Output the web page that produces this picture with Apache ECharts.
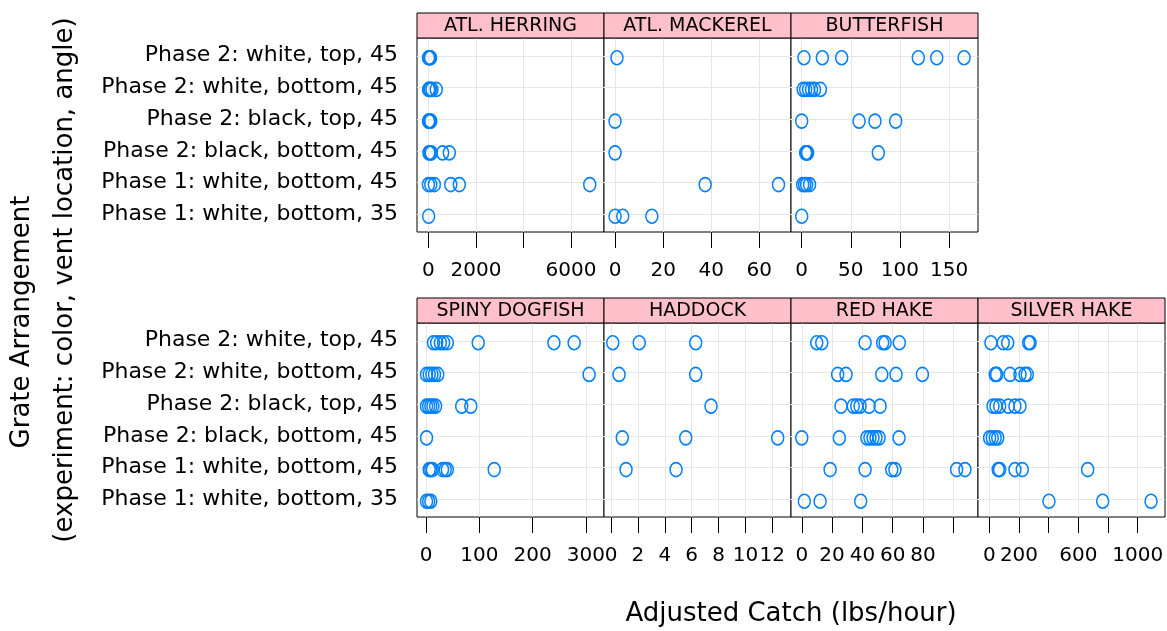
<!DOCTYPE html>
<html>
<head>
<meta charset="utf-8">
<title>Adjusted catch by grate arrangement</title>
<script src="https://cdn.jsdelivr.net/npm/echarts@6.0.0/dist/echarts.min.js"></script>
<style>
  html, body { margin: 0; padding: 0; background: #fff; }
  #main { width: 1167px; height: 631px; }
</style>
</head>
<body>
<div id="main"></div>
<script>
// grate arrangements, bottom row of a panel first (y = 1 .. 6)
var levels = [
  'Phase 1: white, bottom, 35',
  'Phase 1: white, bottom, 45',
  'Phase 2: black, bottom, 45',
  'Phase 2: black, top, 45',
  'Phase 2: white, bottom, 45',
  'Phase 2: white, top, 45'
];

// adjusted catch (lbs/hour), one list per arrangement, same order as levels
var herring = [
  [10],
  [0, 100, 250, 940, 1300, 6790],
  [20, 70, 120, 600, 880],
  [5, 30, 70, 100],
  [10, 40, 80, 150, 330],
  [5, 30, 60, 90]
];
var mackerel = [
  [0, 3.2, 15.3],
  [37.5, 68],
  [0],
  [0],
  [],
  [0.8]
];
var butterfish = [
  [0],
  [1, 3, 5, 8],
  [4, 5, 6, 78],
  [0, 58.4, 74.6, 95.7],
  [1.5, 4, 7, 10, 13, 19],
  [2.3, 21, 40.7, 118.7, 137.5, 165.3]
];
var dogfish = [
  [1, 5, 9],
  [6, 9, 12, 31, 36, 40, 128],
  [1],
  [1, 5, 9, 13, 18, 67, 84],
  [1, 6, 11, 16, 22, 306],
  [14, 20, 27, 33, 40, 98, 240, 278]
];
var haddock = [
  [],
  [1.12, 4.84],
  [0.84, 5.56, 12.4],
  [7.44],
  [0.6, 6.3],
  [0.13, 2.1, 6.3]
];
var redHake = [
  [1.7, 12.1, 38.9],
  [18.7, 41.8, 59.4, 61.5, 102.2, 107.7],
  [0, 24.8, 43, 45, 47, 49, 51, 64.2],
  [25.9, 34, 36.3, 38.5, 44.4, 51.7],
  [23.7, 29.2, 52.8, 62.2, 79.6],
  [9.9, 13.2, 41.8, 53.4, 55, 64.4]
];
var silverHake = [
  [402, 764, 1090],
  [60, 70, 173, 222, 663],
  [2, 20, 40, 57],
  [25, 45, 70, 128, 173, 207],
  [40, 50, 140, 207, 241, 256],
  [11, 94, 124, 265, 275]
];

// x ticks and the tick labels that are printed
var herringTicks = [0, 2000, 4000, 6000],  herringLabels = [0, 2000, 6000];
var mackerelTicks = [0, 20, 40, 60],       mackerelLabels = [0, 20, 40, 60];
var butterTicks = [0, 50, 100, 150],       butterLabels = [0, 50, 100, 150];
var dogTicks = [0, 100, 200, 300],         dogLabels = [0, 100, 200, 300];
var haddockTicks = [0, 2, 4, 6, 8, 10, 12], haddockLabels = [0, 2, 4, 6, 8, 10, 12];
var redTicks = [0, 20, 40, 60, 80, 100],   redLabels = [0, 20, 40, 60, 80];
var silverTicks = [0, 200, 400, 600, 800, 1000], silverLabels = [0, 200, 600, 1000];

var panels = [
  { name: 'ATL. HERRING',  rows: herring,    ticks: herringTicks,  labels: herringLabels,  min: -480,  max: 7390,  row: 0, col: 0 },
  { name: 'ATL. MACKEREL', rows: mackerel,   ticks: mackerelTicks, labels: mackerelLabels, min: -4.6,  max: 73.2,  row: 0, col: 1 },
  { name: 'BUTTERFISH',    rows: butterfish, ticks: butterTicks,   labels: butterLabels,   min: -10.9, max: 179.5, row: 0, col: 2 },
  { name: 'SPINY DOGFISH', rows: dogfish,    ticks: dogTicks,      labels: dogLabels,      min: -16.9, max: 334,   row: 1, col: 0 },
  { name: 'HADDOCK',       rows: haddock,    ticks: haddockTicks,  labels: haddockLabels,  min: -0.52, max: 13.39, row: 1, col: 1 },
  { name: 'RED HAKE',      rows: redHake,    ticks: redTicks,      labels: redLabels,      min: -7.1,  max: 116.3, row: 1, col: 2 },
  { name: 'SILVER HAKE',   rows: silverHake, ticks: silverTicks,   labels: silverLabels,   min: -76,   max: 1184,  row: 1, col: 3 }
];

// layout
var colLeft = [417, 604, 791, 978];
var panelW = 187, panelH = 194, stripH = 25;
var stripTop = [13, 298];
var FONT = 'DejaVu Sans';
var BLUE = '#0080ff';
var GRID_GRAY = '#e6e6e6';

var grids = [], xAxes = [], yAxes = [], series = [], graphics = [];

panels.forEach(function (p, i) {
  var left = colLeft[p.col];
  var top = stripTop[p.row] + stripH;

  grids.push({
    left: left, top: top, width: panelW, height: panelH,
    show: true, backgroundColor: '#fff', borderColor: '#000', borderWidth: 1,
    containLabel: false, outerBoundsMode: 'none'
  });

  xAxes.push({
    type: 'value', gridIndex: i, min: p.min, max: p.max,
    axisLine: { show: false },
    splitLine: { show: false },
    axisTick: { show: true, customValues: p.ticks, length: 16, lineStyle: { color: '#000', width: 1 } },
    axisLabel: {
      show: true, customValues: p.labels, margin: 29,
      fontFamily: FONT, fontSize: 20, color: '#000',
      formatter: function (v) { return String(v); }
    }
  });

  yAxes.push({
    type: 'value', gridIndex: i, min: 0.44, max: 6.56,
    axisLine: { show: false },
    splitLine: { show: false },
    axisTick: { show: false },
    axisLabel: {
      show: p.col === 0, customValues: [1, 2, 3, 4, 5, 6], margin: 19,
      fontFamily: FONT, fontSize: 22, color: '#000',
      formatter: function (v) { return levels[Math.round(v) - 1]; }
    }
  });

  var pts = [];
  p.rows.forEach(function (vals, k) {
    vals.forEach(function (v) { pts.push([v, k + 1]); });
  });

  var guides = p.ticks.map(function (t) { return { xAxis: t }; })
    .concat(levels.map(function (l, k) { return { yAxis: k + 1 }; }));

  series.push({
    type: 'scatter', xAxisIndex: i, yAxisIndex: i, data: pts,
    symbol: 'circle', symbolSize: [12, 14], symbolOffset: [0, 2],
    itemStyle: { color: 'transparent', borderColor: BLUE, borderWidth: 1.6, opacity: 1 },
    emphasis: { disabled: true },
    silent: true, z: 3,
    markLine: {
      silent: true, z: 1, symbol: ['none', 'none'], animation: false,
      label: { show: false },
      lineStyle: { color: GRID_GRAY, type: 'solid', width: 1 },
      emphasis: { disabled: true },
      data: guides
    }
  });

  // strip with the species name
  graphics.push({
    type: 'rect', z: 10,
    shape: { x: left, y: stripTop[p.row], width: panelW, height: stripH },
    style: { fill: '#ffc0cb', stroke: '#000', lineWidth: 1 }
  });
  graphics.push({
    type: 'text', z: 11,
    x: left + panelW / 2, y: stripTop[p.row] + stripH / 2 + 1,
    style: {
      text: p.name, fill: '#000', fontFamily: FONT, fontSize: 19,
      align: 'center', verticalAlign: 'middle',
      textAlign: 'center', textVerticalAlign: 'middle'
    }
  });
});

// axis titles
graphics.push({
  type: 'text', x: 791, y: 614,
  style: { text: 'Adjusted Catch (lbs/hour)', fill: '#000', fontFamily: FONT, fontSize: 26,
    align: 'center', verticalAlign: 'middle', textAlign: 'center', textVerticalAlign: 'middle' }
});
graphics.push({
  type: 'text', x: 22, y: 322, rotation: Math.PI / 2,
  style: { text: 'Grate Arrangement', fill: '#000', fontFamily: FONT, fontSize: 26,
    align: 'center', verticalAlign: 'middle', textAlign: 'center', textVerticalAlign: 'middle' }
});
graphics.push({
  type: 'text', x: 65, y: 280, rotation: Math.PI / 2,
  style: { text: '(experiment: color, vent location, angle)', fill: '#000', fontFamily: FONT, fontSize: 26,
    align: 'center', verticalAlign: 'middle', textAlign: 'center', textVerticalAlign: 'middle' }
});

var chart = echarts.init(document.getElementById('main'), null, { renderer: 'canvas' });
chart.setOption({
  backgroundColor: '#fff',
  animation: false,
  grid: grids,
  xAxis: xAxes,
  yAxis: yAxes,
  series: series,
  graphic: graphics
});
</script>
</body>
</html>
